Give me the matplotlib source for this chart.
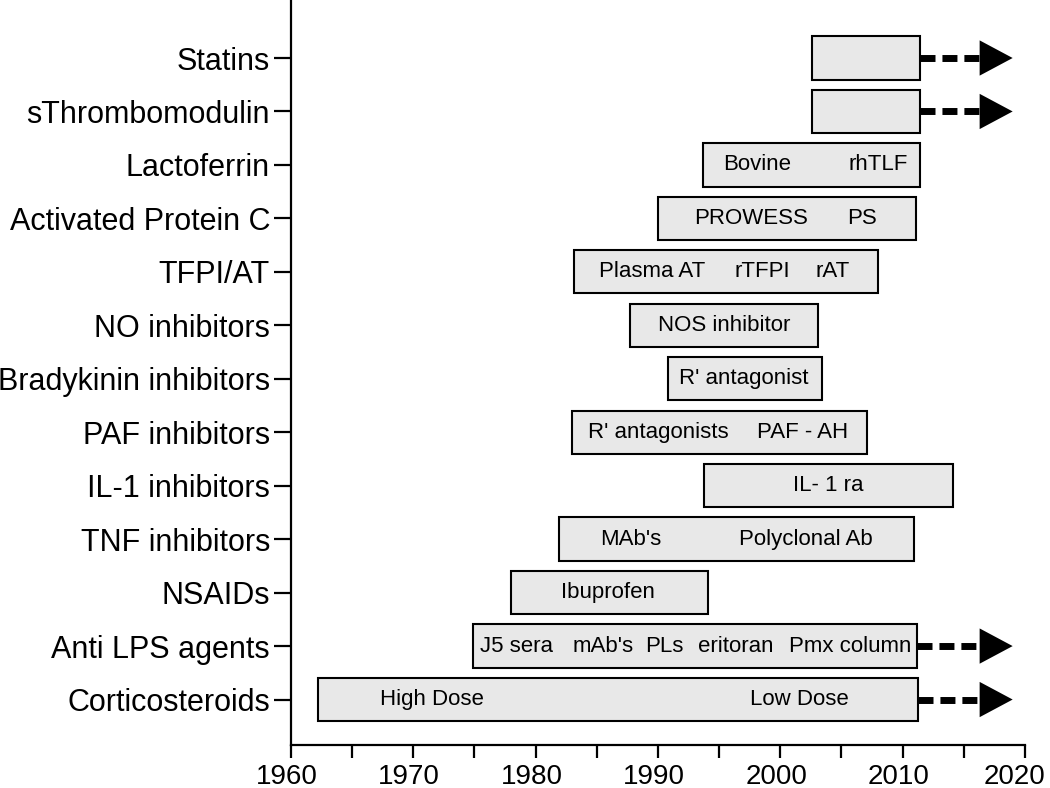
import matplotlib
matplotlib.use("Agg")
import matplotlib.pyplot as plt
import matplotlib.transforms as mtransforms

plt.rcParams["font.family"] = ["Liberation Sans", "DejaVu Sans"]

# Therapies (bottom to top) and their time spans (years)
categories = ["Corticosteroids", "Anti LPS agents", "NSAIDs", "TNF inhibitors",
              "IL-1 inhibitors", "PAF inhibitors", "Bradykinin inhibitors",
              "NO inhibitors", "TFPI/AT", "Activated Protein C", "Lactoferrin",
              "sThrombomodulin", "Statins"]
start_year = [1962.2, 1974.9, 1978.0, 1981.9, 1993.8, 1983.0, 1990.8,
              1987.7, 1983.1, 1990.0, 1993.7, 2002.6, 2002.6]
end_year = [2011.3, 2011.2, 1994.1, 2010.9, 2014.1, 2007.1, 2003.4,
            2003.1, 2008.0, 2011.1, 2011.4, 2011.4, 2011.4]
ongoing = [True, True, False, False, False, False, False,
           False, False, False, False, True, True]

# Labels inside the bars: (text, year of centre)
bar_labels = [
    [("High Dose", 1971.5), ("Low Dose", 2001.6)],
    [("J5 sera", 1978.4), ("mAb's", 1985.5), ("PLs", 1990.5),
     ("eritoran", 1996.4), ("Pmx column", 2005.7)],
    [("Ibuprofen", 1985.9)],
    [("MAb's", 1987.8), ("Polyclonal Ab", 2002.1)],
    [("IL- 1 ra", 2003.9)],
    [("R' antagonists", 1990.0), ("PAF - AH", 2001.8)],
    [("R' antagonist", 1997.0)],
    [("NOS inhibitor", 1995.4)],
    [("Plasma AT", 1989.5), ("rTFPI", 1998.5), ("rAT", 2004.3)],
    [("PROWESS", 1997.6), ("PS", 2006.7)],
    [("Bovine", 1998.1), ("rhTLF", 2008.0)],
    [],
    [],
]

x_ticks = [1960, 1970, 1980, 1990, 2000, 2010, 2020]

# Styles
c_BAR_FILL = "#e8e8e8"
c_EDGE = "black"
f_BAR_HEIGHT = 0.81
f_DASH_END = 2016.3
f_ARROW_TIP = 2019.0
f_ARROW_HALF = 0.33

fig = plt.figure(figsize=(10.5, 7.88), dpi=100)
ax = fig.add_axes([0.2771, 0.0546, 0.6990, 0.9454])

for i_row, str_cat in enumerate(categories):
    ax.barh(i_row, end_year[i_row] - start_year[i_row], left=start_year[i_row],
            height=f_BAR_HEIGHT, color=c_BAR_FILL, edgecolor=c_EDGE,
            linewidth=1.5, zorder=3)
    for str_text, f_x in bar_labels[i_row]:
        ax.text(f_x, i_row, str_text, ha="center", va="center",
                fontsize=16, zorder=4)
    if ongoing[i_row]:
        ln, = ax.plot([end_year[i_row], f_DASH_END], [i_row, i_row],
                      color="black", linewidth=5, solid_capstyle="butt",
                      dash_capstyle="butt", zorder=2)
        ln.set_dashes((2.16, 1.0))
        ax.fill([f_DASH_END, f_ARROW_TIP, f_DASH_END],
                [i_row - f_ARROW_HALF, i_row, i_row + f_ARROW_HALF],
                color="black", linewidth=0, zorder=2)

ax.set_xlim(1960, 2020)
ax.set_ylim(-0.85, len(categories) - 1 + 1.085)
ax.set_xticks(x_ticks)
ax.set_xticks(range(1965, 2020, 10), minor=True)
ax.set_yticks(range(len(categories)))
ax.set_yticklabels(categories)

ax.spines["top"].set_visible(False)
ax.spines["right"].set_visible(False)
ax.spines["left"].set_linewidth(1.6)
ax.spines["bottom"].set_linewidth(1.6)
ax.tick_params(axis="x", which="both", length=9.5, width=1.6, labelsize=20, pad=4)
ax.tick_params(axis="y", length=12, width=1.6, labelsize=22, pad=3)

# Tick labels sit a touch left of their ticks; keep the last one inside the figure
lst_xlabels = ax.get_xticklabels()
for i_lab, lab in enumerate(lst_xlabels):
    f_shift = -10 / 100 if i_lab == len(lst_xlabels) - 1 else -4 / 100
    lab.set_transform(lab.get_transform() +
                      mtransforms.ScaledTranslation(f_shift, 0, fig.dpi_scale_trans))

fig.savefig("out.png", dpi=100)
plt.close()
